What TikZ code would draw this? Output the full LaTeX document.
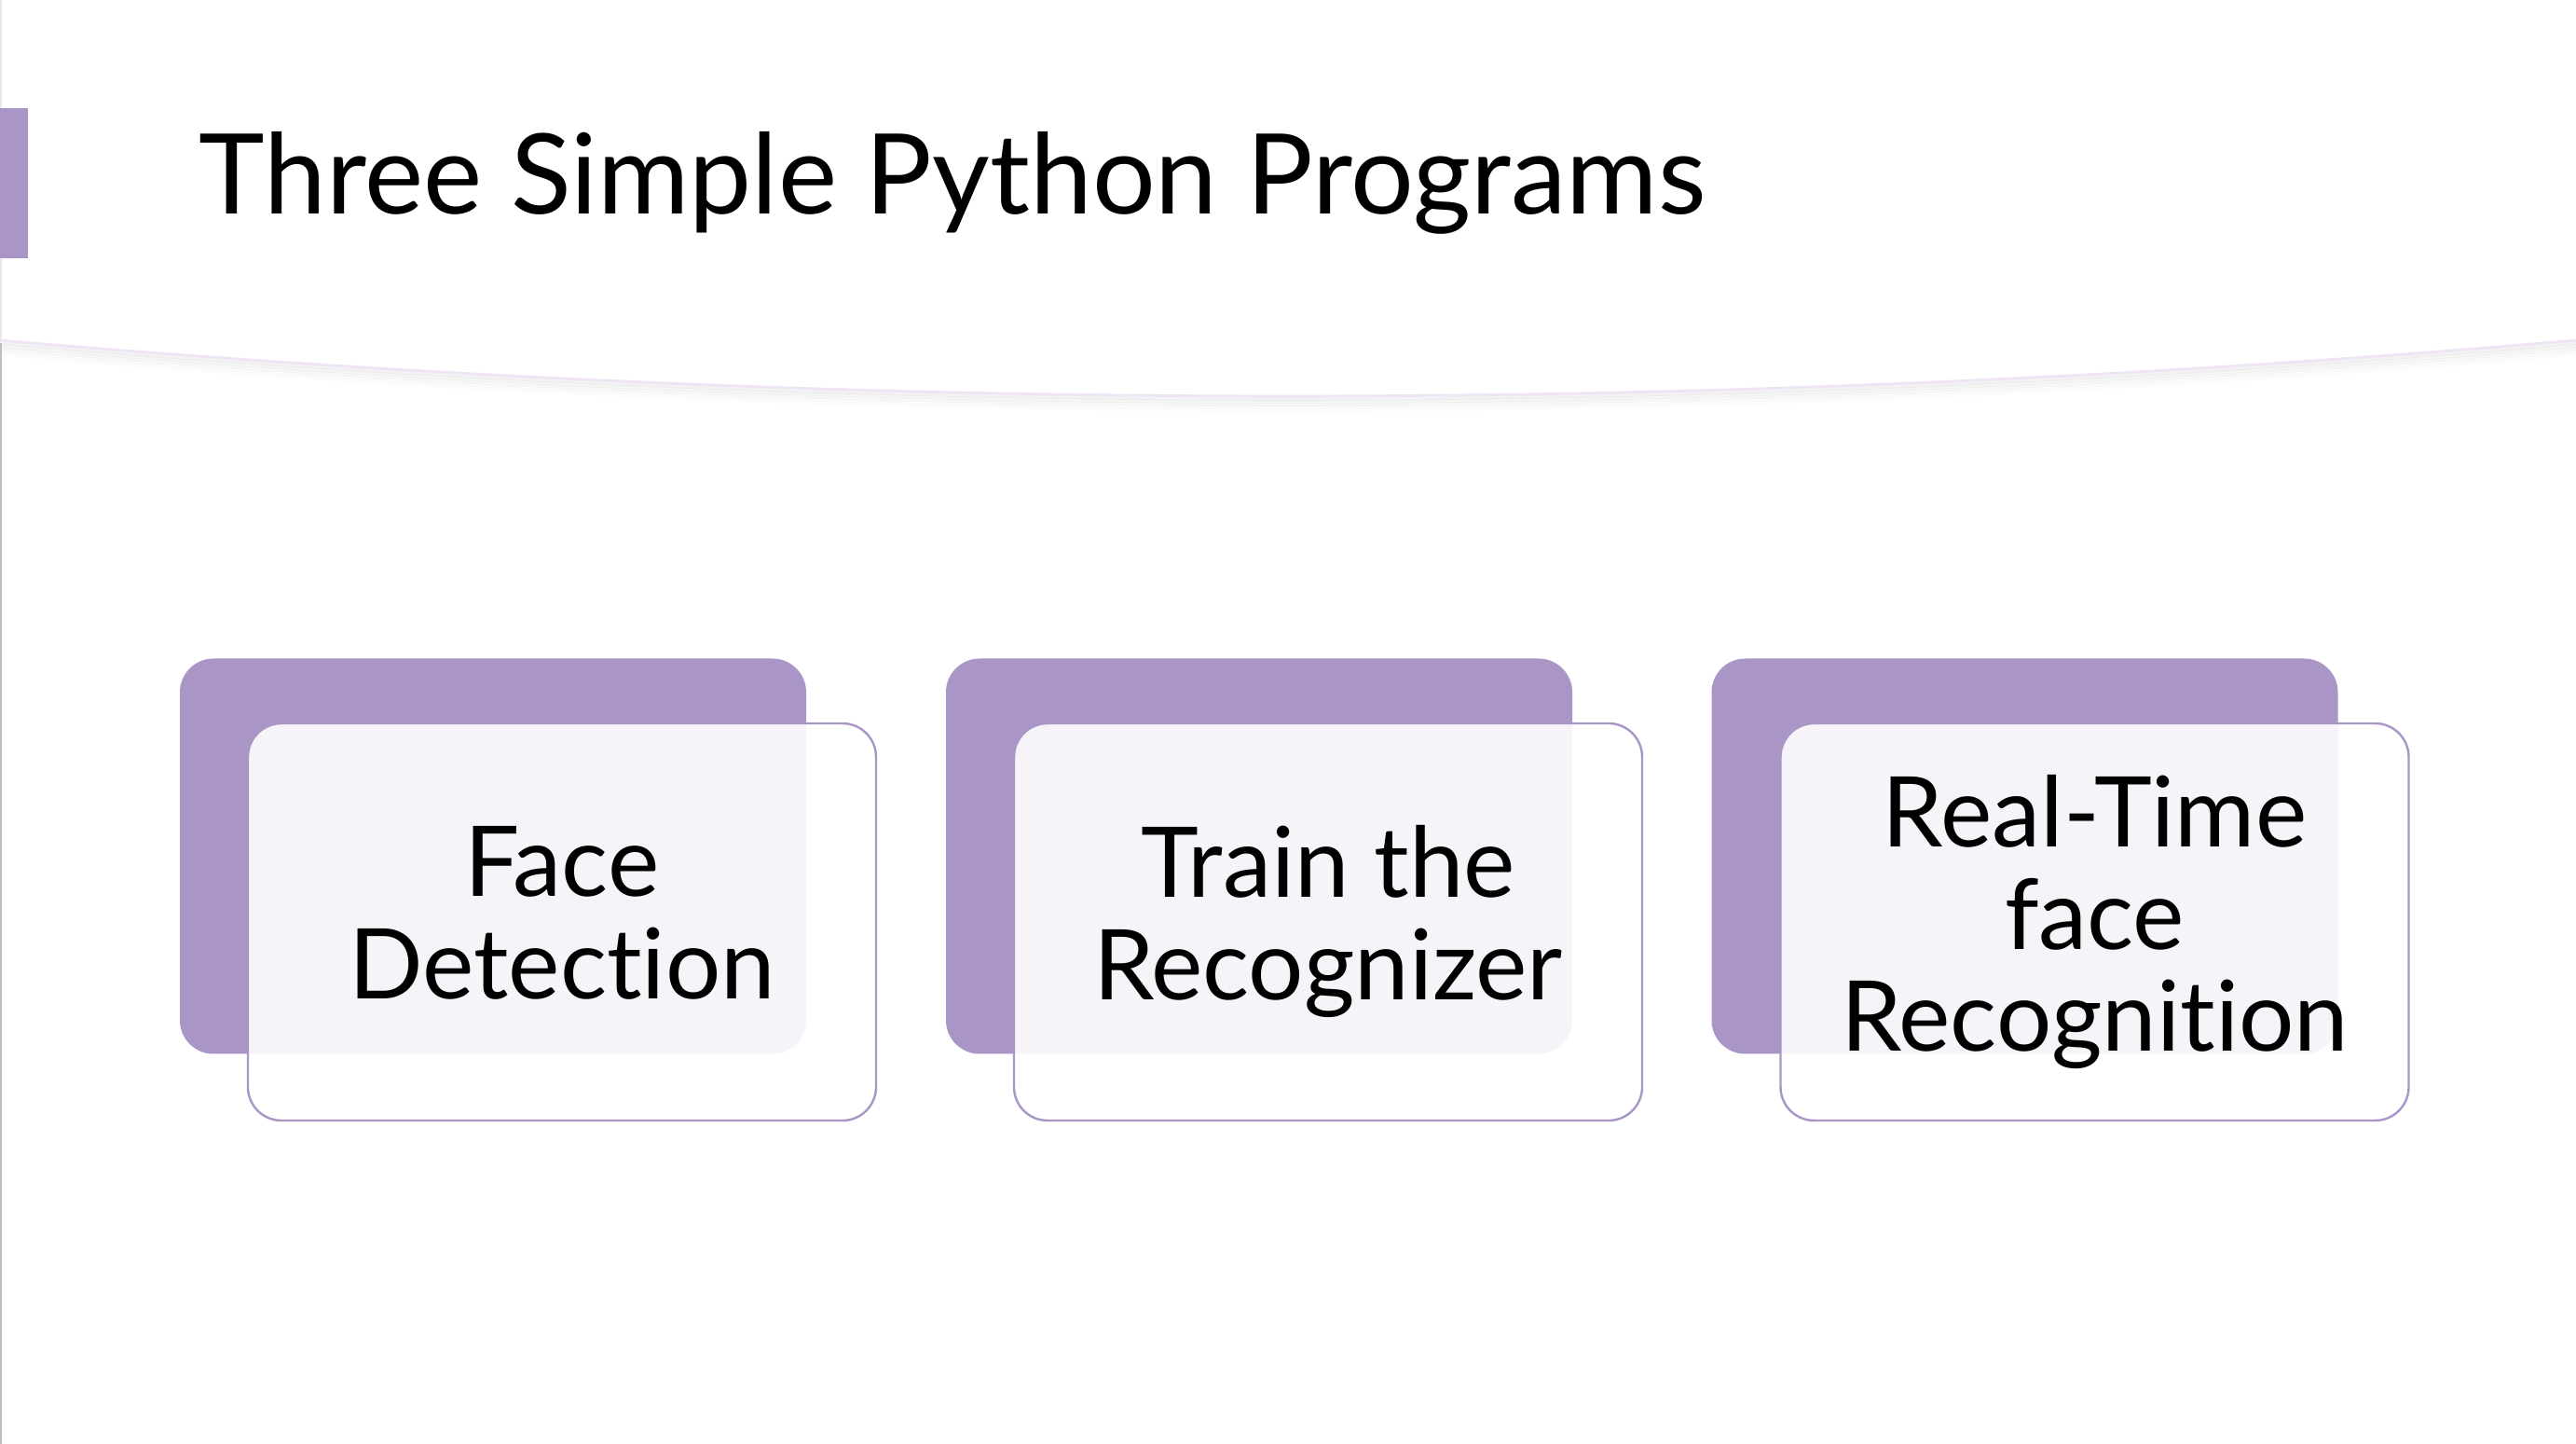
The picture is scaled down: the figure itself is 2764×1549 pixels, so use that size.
\documentclass[tikz,border=0pt]{standalone}
\usepackage{fontspec}
\setmainfont[Ligatures=NoCommon]{Lato}
\definecolor{lav}{HTML}{A996C6}
\definecolor{lavline}{HTML}{EEE4F4}
\tikzset{
  backbox/.style={fill=lav, draw=none, rounded corners=9pt, minimum width=168pt, minimum height=106pt, inner sep=0pt},
  frontbox/.style={fill=white, fill opacity=0.9, text opacity=1, draw=lav, line width=0.6pt, rounded corners=9pt,
     minimum width=168.5pt, minimum height=106.5pt, inner sep=0pt, align=center,
     font=\fontsize{26.2pt}{27.3pt}\selectfont},
  titletext/.style={font=\fontsize{29.9pt}{36pt}\selectfont, inner sep=0pt, anchor=base west},
  accent/.style={fill=lav, draw=none},
}
\begin{document}
\begin{tikzpicture}[x=0.25pt,y=-0.25pt]
\useasboundingbox[fill=white] (0,0) rectangle (2764,1549);
% header shadow
\foreach \d/\o in {3/0.05,6/0.04,9/0.03,12/0.02,15/0.012}{
  \draw[black, opacity=\o, line width=0.9pt] (0,365+\d) .. controls (921,445+\d) and (1843,445+\d) .. (2764,365+\d);
}
\draw[lavline, line width=0.7pt] (0,365) .. controls (921,445) and (1843,445) .. (2764,365);
% left edges
\draw[lavline, line width=0.5pt] (1,0) -- (1,365);
\draw[black!25, line width=0.5pt] (1,368) -- (1,1549);
% accent bar
\path[accent] (0,116) rectangle (30,277);
% title
\node[titletext] (title) at (213,230) {Three Simple Python Programs};
% boxes
\node[backbox] (b1) at (529,918.5) {};
\node[backbox] (b2) at (1351,918.5) {};
\node[backbox] (b3) at (2172.5,918.5) {};
\node[frontbox] (f1) at (603,989) {\raisebox{5pt}{}Face\\Detection\rule[-5pt]{0pt}{0pt}};
\node[frontbox] (f2) at (1425,989) {Train the\\Recognizer\rule[-5pt]{0pt}{0pt}};
\node[frontbox] (f3) at (2247.5,989) {Real-Time\\face\\Recognition};
\end{tikzpicture}
\end{document}
